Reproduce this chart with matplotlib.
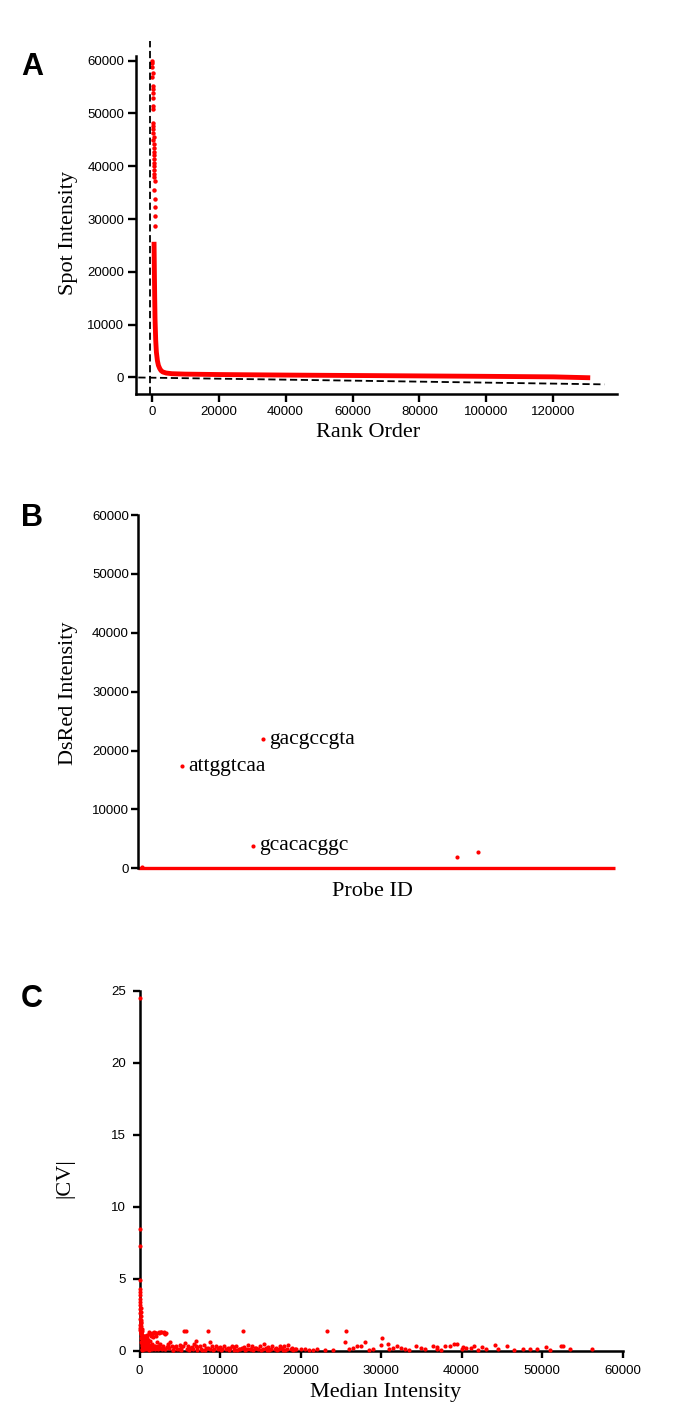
import numpy as np
import matplotlib
matplotlib.use('Agg')
import matplotlib.pyplot as plt

W, H = 685, 1408
SERIF = 'Liberation Serif'
SANS = 'Liberation Sans'
plt.rcParams['font.family'] = SANS

# Panel A - rank order of spot intensities
top_rank = [100, 200, 150, 250, 200, 300, 250, 350, 300, 400, 350, 450, 400,
            500, 450, 550, 500, 600, 550, 650, 600, 700, 650, 750, 700, 800,
            750, 850, 800, 900, 850, 950, 900]
top_intensity = [60000, 59500, 58800, 57600, 56900, 55300, 54600, 53800, 53000,
                 51500, 50800, 48200, 47600, 47000, 46300, 45600, 44900, 44200,
                 43500, 42800, 42100, 41400, 40700, 40000, 39300, 38600, 37900,
                 37200, 35600, 33800, 32200, 30500, 28600]
curve_rank = [700, 800, 900, 1000, 1200, 1400, 1700, 2000, 2400, 2800, 3300,
              4300, 6000, 10000, 20000, 40000, 60000, 80000, 100000, 120000, 131000]
curve_intensity = [25700, 20000, 15000, 11000, 7000, 4800, 3200, 2300, 1700, 1300,
                   1050, 850, 720, 640, 560, 460, 380, 300, 220, 120, -50]
cutoff_x = [-4000, 135200]
cutoff_y = [0, -1300]
vert_x = [-500, -500]
vert_y = [-3125, 63700]

# Panel B - probe intensities
probe_line_x = [0, 130000]
probe_line_y = [0, 0]
probe_x = [12070, 34150, 31420, 86860, 92580, 1000]
probe_y = [17300, 21900, 3800, 1900, 2800, 300]
probe_labels = ['attggtcaa', 'gacgccgta', 'gcacacggc', '', '', '']

# Panel C - |CV| vs median intensity
cv_x = [0, 50, 80, 60, 100, 90, 120, 150, 130, 160, 180, 200, 220, 250, 300, 150,
        40, 60, 90, 110, 70, 100, 130, 80, 50, 120, 160, 200, 240, 180,
        300, 500, 700, 900, 400, 600, 800, 300, 500, 700, 900, 400, 600, 800, 1000,
        300, 1000, 1000, 200, 350, 550, 750, 650, 450, 850, 950,
        250, 450, 650, 850, 350, 550, 750, 950, 200, 400, 600, 800, 1100, 1200,
        250, 450, 650, 850, 350, 550, 750, 950, 1100, 1300,
        1200, 1500, 1800, 2100, 2400, 2700, 3000, 3200, 1400, 1700, 2000, 1300, 1600,
        1900, 2200, 2600, 1100, 1250, 1550, 2350, 2900, 3400,
        1350, 1650, 1950, 2250, 2550, 2850, 3150, 1450, 1750, 2050, 2450, 2750,
        1200, 1500, 1800, 2100, 2400, 2700, 3000, 3300, 3600,
        3500, 4000, 4500, 5000, 5200, 5600, 6000, 6500, 7000, 7500, 8000, 8500,
        9000, 9500, 10000, 10500, 11000, 11500, 12000, 12500, 13000, 13500, 14000,
        14500, 15000, 15500, 16000, 16500, 17000, 17500, 18000, 18500, 19000,
        19500, 20000, 3200, 4200, 6200, 7800, 9800, 11800, 13800, 15800, 17800,
        8700, 6800, 3800, 4700, 5500, 8500, 12800, 23300, 25600, 5800, 7000,
        3700, 4300, 4900, 5400, 5900, 6300, 6700, 7200, 7700, 8200, 8800, 9300,
        9700, 10200, 10800, 11300, 11700, 12300, 12700, 13300, 13700, 14300,
        14700, 15300, 15700, 16300, 16800, 17300, 17700, 18300, 18800, 19300,
        4100, 5100, 6100, 7100, 8100, 9100, 10100, 11100, 12100, 13100, 14100,
        15100, 16100, 17100, 18100, 19100, 20500,
        21000, 22000, 24000, 26500, 27000, 29000, 31500, 33000, 35000, 37000, 38000,
        40500, 42500, 43000, 46500, 48500, 51000, 53500, 28000, 30100, 30000, 30900,
        25500, 32000, 34300, 36400, 39100, 39500, 41600, 44100, 45700, 49400,
        50500, 52300, 52600, 56200, 47600, 32500, 36900, 38600, 40200, 41200, 27500,
        26000, 28500, 31000, 33500, 35500, 37500, 40000, 42000, 44500, 21500, 23000]
cv_y = [24.5, 8.45, 7.3, 4.9, 4.05, 3.6, 3.2, 3.0, 2.7, 2.4, 2.1, 1.9, 1.7, 1.5, 1.35, 1.2,
        4.3, 3.9, 3.4, 2.9, 2.6, 2.2, 2.0, 1.8, 1.6, 1.45, 1.3, 1.25, 1.15, 1.4,
        1.1, 1.0, 1.05, 1.1, 0.8, 0.7, 0.85, 0.5, 0.4, 0.55, 0.6, 0.2, 0.1, 0.25, 0.15,
        0.05, 0.4, 0.75, 0.9, 0.3, 0.15, 0.35, 0.95, 0.65, 0.45, 0.9,
        1.0, 0.9, 0.8, 0.7, 0.65, 0.55, 0.45, 0.35, 0.6, 0.3, 0.95, 0.1, 0.2, 0.05,
        0.15, 0.25, 0.35, 1.0, 1.05, 0.3, 0.9, 0.2, 0.6, 0.3,
        1.15, 1.1, 1.2, 1.25, 1.3, 1.28, 1.22, 1.18, 1.0, 0.95, 1.05, 0.7, 0.5,
        0.3, 0.6, 0.45, 0.4, 0.2, 0.15, 0.35, 0.3, 0.25,
        0.1, 0.2, 0.15, 0.1, 0.2, 0.1, 0.15, 0.4, 0.35, 0.25, 0.3, 0.2,
        1.3, 1.25, 1.3, 1.2, 1.22, 1.3, 1.3, 1.25, 0.35,
        0.45, 0.3, 0.35, 0.4, 0.2, 0.55, 0.3, 0.25, 0.35, 0.3, 0.4, 0.2,
        0.35, 0.3, 0.25, 0.3, 0.2, 0.35, 0.3, 0.15, 0.25, 0.4, 0.3,
        0.2, 0.35, 0.45, 0.25, 0.3, 0.2, 0.35, 0.3, 0.4, 0.2,
        0.1, 0.15, 0.1, 0.05, 0.1, 0.08, 0.12, 0.06, 0.1, 0.08, 0.05,
        0.6, 0.5, 0.6, 0.15, 1.35, 1.35, 1.35, 1.4, 1.4, 1.35, 0.65,
        0.2, 0.25, 0.15, 0.3, 0.1, 0.2, 0.15, 0.25, 0.1, 0.2, 0.15, 0.1,
        0.2, 0.15, 0.1, 0.2, 0.25, 0.1, 0.2, 0.1, 0.15, 0.2,
        0.1, 0.15, 0.2, 0.1, 0.15, 0.1, 0.2, 0.1, 0.15, 0.1,
        0.05, 0.05, 0.05, 0.05, 0.05, 0.05, 0.05, 0.05, 0.05, 0.05, 0.05,
        0.05, 0.05, 0.05, 0.05, 0.05, 0.1,
        0.05, 0.1, 0.05, 0.2, 0.3, 0.15, 0.2, 0.1, 0.2, 0.25, 0.35,
        0.2, 0.25, 0.1, 0.05, 0.15, 0.05, 0.1, 0.58, 0.86, 0.4, 0.45,
        0.58, 0.3, 0.3, 0.3, 0.45, 0.5, 0.3, 0.4, 0.3, 0.1,
        0.25, 0.3, 0.35, 0.1, 0.1, 0.2, 0.15, 0.3, 0.25, 0.2, 0.35,
        0.1, 0.05, 0.1, 0.05, 0.1, 0.05, 0.1, 0.05, 0.1, 0.05, 0.05]

fig = plt.figure(figsize=(W / 100, H / 100), dpi=100)


def px_axes(left, top, right, bottom):
    return fig.add_axes([left / W, 1 - bottom / H, (right - left) / W, (bottom - top) / H])


def style(ax, length=5.5, pad=3):
    for side in ['top', 'right']:
        ax.spines[side].set_visible(False)
    for side in ['left', 'bottom']:
        ax.spines[side].set_linewidth(1.8)
    ax.tick_params(direction='out', length=length, width=1.7, labelsize=9.5, pad=pad)


# ---- A ----
axA = px_axes(136, 56, 617, 394)
style(axA)
axA.plot(vert_x, vert_y, color='black', lw=1.3, ls=(0, (4, 2)), clip_on=False, zorder=3)
axA.plot(cutoff_x, cutoff_y, color='black', lw=1.3, ls=(0, (4, 2)), zorder=3)
axA.plot(curve_rank, curve_intensity, color='red', lw=3.5, solid_capstyle='butt', zorder=2)
axA.plot(top_rank, top_intensity, 'o', color='red', ms=3.2, mec='none', zorder=2)
axA.set_xlim(-4690, 139000)
axA.set_ylim(-3125, 60890)
axA.set_xticks(range(0, 120001, 20000))
axA.set_yticks(range(0, 60001, 10000))

# ---- B ----
axB = px_axes(138, 515, 620, 868.3)
style(axB, length=5, pad=1.5)
axB.spines['bottom'].set_visible(False)
axB.plot(probe_line_x, probe_line_y, color='red', lw=2.4, clip_on=False, solid_capstyle='butt')
axB.plot(probe_x, probe_y, 'o', color='red', ms=3, mec='none', clip_on=False)
for px, py, lab in zip(probe_x, probe_y, probe_labels):
    if lab:
        axB.annotate(lab, (px, py), xytext=(4, 0), textcoords='offset points',
                     va='center', ha='left', fontsize=15.5, family=SERIF)
axB.set_xlim(0, 131360)
axB.set_ylim(0, 60000)
axB.set_xticks([])
axB.set_yticks(range(0, 60001, 10000))

# ---- C ----
axC = px_axes(139.5, 990.7, 622.5, 1350.7)
style(axC, length=5, pad=5)
axC.scatter(cv_x, cv_y, s=9, color='red', linewidths=0, clip_on=False, zorder=3)
axC.set_xlim(0, 60000)
axC.set_ylim(0, 25)
axC.set_xticks(range(0, 60001, 10000))
axC.set_yticks(range(0, 26, 5))

# labels
fig.text(68 / W, 1 - 233 / H, 'Spot Intensity', rotation=90, ha='center', va='center',
         fontsize=16, family=SERIF)
fig.text(368 / W, 1 - 432 / H, 'Rank Order', ha='center', va='center', fontsize=16, family=SERIF)
fig.text(68 / W, 1 - 693 / H, 'DsRed Intensity', rotation=90, ha='center', va='center',
         fontsize=16, family=SERIF)
fig.text(372 / W, 1 - 891 / H, 'Probe ID', ha='center', va='center', fontsize=16, family=SERIF)
fig.text(65 / W, 1 - 1178 / H, '|CV|', rotation=90, ha='center', va='center',
         fontsize=16, family=SERIF)
fig.text(386 / W, 1 - 1392 / H, 'Median Intensity', ha='center', va='center', fontsize=16,
         family=SERIF)

for letter, y in [('A', 67), ('B', 518), ('C', 999)]:
    fig.text(32 / W, 1 - y / H, letter, ha='center', va='center', fontsize=22,
             fontweight='bold', family=SANS)

fig.savefig('out.png', dpi=100)
